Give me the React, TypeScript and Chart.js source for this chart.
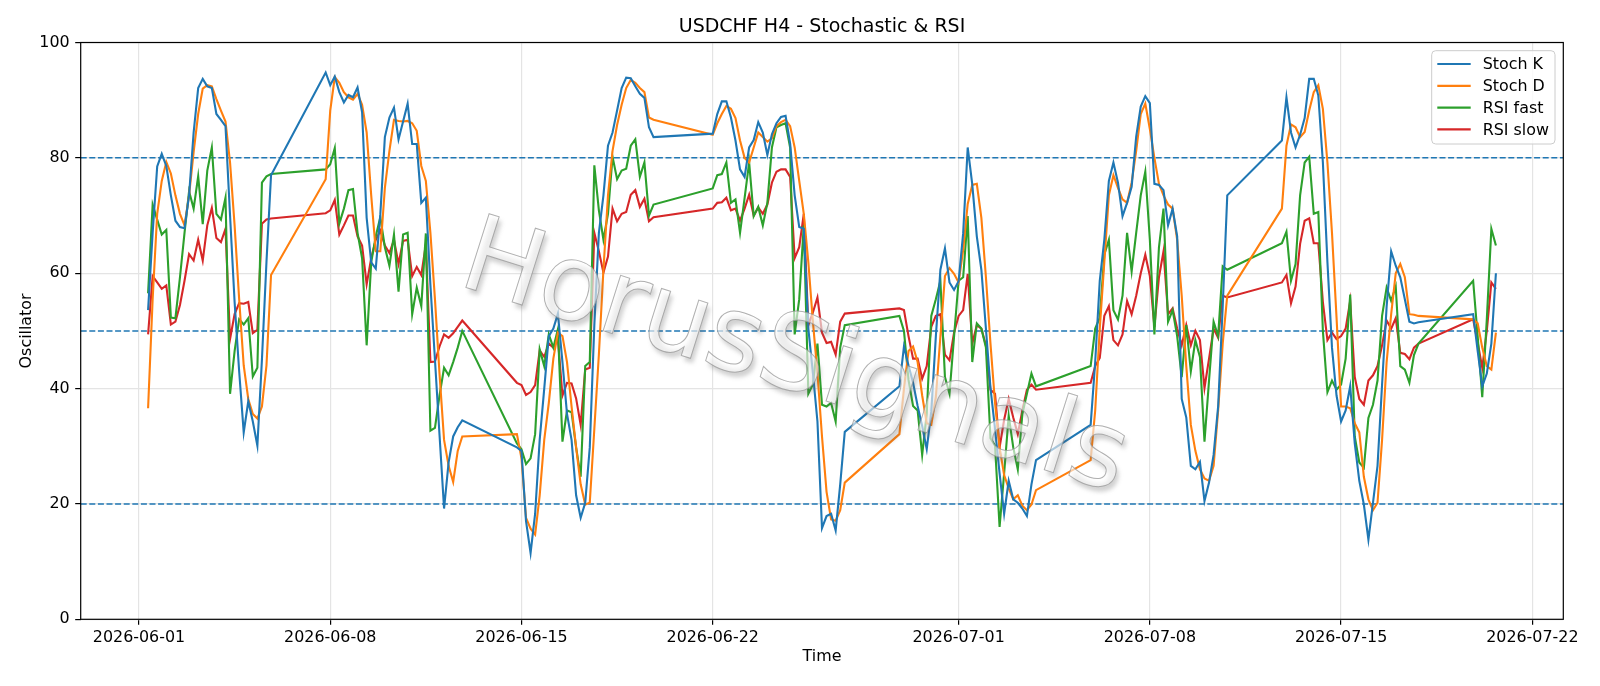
import React, { useEffect, useRef } from 'react';
import { Chart, registerables } from 'chart.js';

Chart.register(...registerables);

// H4 trading sessions: [first bar (UTC), number of bars]
const sessions: [string, number][] = [
  ['2026-06-01 08:00', 28],
  ['2026-06-07 20:00', 31],
  ['2026-06-14 20:00', 31],
  ['2026-06-22 00:00', 30],
  ['2026-06-28 20:00', 31],
  ['2026-07-05 20:00', 31],
  ['2026-07-12 20:00', 31],
  ['2026-07-19 20:00', 6],
];

const stochK = [
  53.6, 67, 78.5, 80.7, 78.6, 73.5, 69.1, 68, 67.8, 73.5, 84.4, 92.1, 93.7, 92.4, 92.1, 87.6, 86.6, 85.5, 70, 55, 43, 32.4, 37.8, 34.3, 30.1, 45, 62, 77,
  94.8, 92.6, 94.1, 91.4, 89.6, 90.9, 90.5, 92.2, 87.9, 69.6, 61.9, 60.8, 70.2, 83.6, 87, 88.7, 83.2, 86.3, 89.4, 82.4, 82.4, 72.2, 73.1, 58, 45, 32, 19.2, 27.2, 31.7, 33.3, 34.5,
  29.8, 29.2, 17, 11.5, 18.3, 31.1, 40, 49.1, 50.4, 53, 44.6, 35.6, 31.1, 21.5, 17.6, 20.2, 29.8, 51, 67, 73.5, 82.1, 84.4, 88.2, 92.1, 93.9, 93.8, 92.4, 91.1, 90.4, 85.3, 83.6,
  84.2, 87.6, 89.8, 89.8, 87, 83, 78, 76.7, 81.8, 83.1, 86.2, 84.4, 80.5, 84.1, 86, 87.1, 87.3, 82.5, 73.5, 68, 67.7, 50.4, 42.7, 34.3, 15.8, 17.9, 18.3, 15.4, 23.4, 32.5,
  40.4, 47.3, 44, 41, 37, 33.5, 29.5, 36, 49, 60.6, 64.3, 58.4, 57.1, 58.6, 66.9, 81.8, 75.4, 66.4, 60.6, 50.4, 40.1, 33, 25.3, 18.3, 24, 20.8, 20.2, 19.2, 17.9, 23.4, 27.6,
  33.7, 44.6, 58.7, 65.8, 76, 79.2, 75.7, 69.9, 72.2, 75, 83.7, 88.9, 90.7, 89.5, 75.5, 75.3, 74.4, 68.3, 71.2, 66.4, 38.2, 35, 26.6, 26, 27.3, 20.5, 23.7, 28.5, 36.9, 54.2, 73.5,
  83, 90.5, 84.4, 81.8, 84, 86.9, 93.7, 93.7, 90.8, 79.2, 61.9, 47.1, 38.8, 34.3, 36.2, 40.4, 30.5, 24, 19.9, 13.8, 20.2, 26.6, 40.7, 54.2, 63.8, 61.3, 59.3, 55.5, 51.6, 51.3, 51.5,
  52.9, 46.5, 40.4, 42.6, 47.8, 60,
];

const stochD = [
  36.6, 55.5, 70.3, 76, 79.3, 77.3, 73.5, 70.3, 68.3, 73.5, 81, 87.6, 92, 92.6, 92.4, 90.2, 88.2, 86.3, 79.2, 68.3, 55.5, 44, 38.2, 35.6, 34.8, 36.9, 44, 59.7,
  76.3, 88.2, 94, 93, 91.4, 90.5, 90.1, 91.1, 89.2, 84.4, 73.5, 63.8, 63.8, 74.8, 81.2, 86.6, 86.4, 86.3, 86.4, 86, 84.7, 78.6, 76, 67, 55.5, 42.6, 31.1, 26.6, 23.8, 29.2, 31.7,
  32.1, 27.9, 17.6, 15.7, 14.7, 21.5, 31.1, 37.5, 45.2, 49.7, 49.1, 44.6, 36.9, 29.8, 23.4, 19.9, 20.2, 33, 45.9, 60.6, 73.5, 81.2, 85.7, 89.2, 92.1, 93.5, 93, 92.1, 91.4, 87, 86.6,
  84, 86, 87.6, 89, 88.5, 86.9, 83, 80, 79.2, 81.8, 84.4, 83.6, 82.8, 83.4, 85.5, 86.2, 86.6, 85.5, 81.8, 76, 70.3, 61.9, 51.6, 42.7, 31.7, 22.1, 17.3, 17.1, 18.9, 23.7,
  32.1, 40, 46.5, 47.3, 44.6, 38.8, 34, 33.7, 38.5, 49, 59.5, 60.9, 59.9, 58.4, 64, 72, 75.3, 75.5, 69.6, 59.3, 47.8, 37.5, 29.8, 25, 22.7, 20.8, 21.5, 19.7, 18.9, 19.9, 22.4,
  27.6, 36.2, 50.4, 61.9, 73.5, 77, 74.8, 72.8, 72.2, 75.7, 81.2, 87.6, 89.4, 85, 80, 75.5, 73.5, 71.9, 71.2, 65.8, 56.1, 43.9, 33.7, 29.2, 26, 24.4, 24, 26.6, 36.2, 47.8, 56.1,
  71.2, 82.1, 85.8, 85.3, 83.6, 84.5, 88.2, 91.4, 92.6, 88.5, 79.2, 67, 52.3, 36.9, 36.9, 36.6, 34, 32.4, 24.7, 20.8, 18.9, 20.2, 31.1, 44.6, 52.9, 60, 61.6, 59.3, 52.9, 52.8, 52.6,
  52, 51.3, 47.1, 43.9, 43.3, 49.7,
];

const rsiFast = [
  56.5, 71.9, 69.3, 66.7, 67.5, 52.3, 52.2, 59.3, 67, 74.2, 71.2, 76.8, 68.5, 77.8, 81.8, 70.3, 69.3, 73.1, 39.1, 46.5, 52, 51.1, 52.2, 42.1, 43.6, 75.7, 76.8, 77.2,
  78, 78.9, 81.7, 68.6, 71.2, 74.4, 74.6, 67, 62.6, 47.5, 61.9, 66.4, 69.7, 64.5, 61.3, 66.7, 56.8, 66.7, 67, 52.9, 57.5, 54.3, 66.9, 32.7, 33.2, 38.8, 43.6, 42.3, 44.6, 47.1, 50,
  30.5, 29.5, 26.9, 27.9, 32.1, 46.8, 43.9, 49.4, 47.1, 50.3, 30.8, 36.2, 35.9, 29.8, 24.7, 43.9, 44.6, 78.7, 70.9, 65.8, 70.3, 80.2, 76.3, 77.8, 78.1, 82.1, 83.2, 76.7, 79.2, 70, 71.9,
  74.7, 77, 77.2, 79.2, 72.2, 72.8, 67, 73, 79.2, 69.9, 71.5, 68.3, 72.2, 81.8, 85.3, 85.7, 86, 81.8, 49.4, 55.5, 68.3, 39.1, 40.7, 47.8, 37.2, 36.9, 37.5, 34.3, 47.1, 51,
  52.6, 50, 41.5, 37, 36.2, 28.5, 35.6, 52.6, 55.5, 58.7, 42, 39.1, 49, 58.7, 59.3, 69.9, 44.6, 51.3, 50.4, 47.1, 31.4, 30.1, 16, 25.3, 35.3, 29.8, 26, 35.6, 39.1, 42.6, 40.4,
  43.9, 50.4, 52.3, 63.2, 65.8, 53.6, 52, 56.1, 67, 60.3, 67, 73.5, 77.6, 65.8, 49.4, 64.5, 71.2, 51.6, 53.6, 49.1, 42, 51, 43, 48.4, 45.5, 30.8, 41.4, 51.6, 49.1, 61.2, 60.6,
  65.2, 67.2, 58.7, 61.6, 73.5, 79.2, 80.2, 70.3, 70.6, 50, 39.4, 41.4, 39.8, 40.7, 45.2, 56.3, 31.7, 27.2, 26.3, 34.9, 37.2, 41.4, 52.6, 57.5, 55.2, 57.7, 43.9, 43.3, 41, 45.8, 47.8,
  58.7, 49, 38.5, 52, 67.7, 64.8,
];

const rsiSlow = [
  49.4, 59.5, 58.4, 57.3, 57.9, 51.1, 51.6, 54.5, 58.7, 63.3, 62.2, 65.8, 62.2, 68.3, 71.3, 66.1, 65.4, 67.7, 48.6, 52.9, 54.8, 54.7, 55, 49.6, 50.2, 68.6, 69.3, 69.5,
  70.4, 70.9, 72.7, 66.7, 68.3, 70, 70, 66.4, 64.8, 58.1, 62.6, 65.8, 67.4, 64.8, 63.5, 65.8, 61.6, 65.6, 65.8, 59.5, 61.1, 59.7, 65, 44.6, 44.7, 47.3, 49.4, 48.8, 49.6, 50.7, 51.8,
  41, 40.6, 38.9, 39.4, 40.6, 46.6, 45.5, 47.8, 47.1, 48.6, 38.8, 41, 40.9, 38.3, 33.7, 43.3, 43.6, 67, 63.8, 60.1, 62.9, 71.2, 69, 70.3, 70.6, 73.6, 74.4, 71.5, 72.9, 69, 69.7,
  71.2, 72.2, 72.3, 73.1, 70.9, 71.2, 69.1, 71.2, 73.6, 70, 71.4, 70.3, 71.9, 75.7, 77.6, 78, 78, 76.7, 62.6, 64.5, 70.3, 51, 53.2, 55.8, 49.7, 47.9, 48.1, 45.9, 51.6, 53,
  53.9, 53.6, 49.1, 45.2, 45.2, 41.7, 43.9, 50.7, 52.6, 52.9, 45.9, 44.9, 49.7, 52.6, 53.6, 59.9, 47.8, 51, 50.4, 47.5, 39.8, 39.1, 29.8, 34.6, 38.2, 35, 32.1, 36.2, 39.8, 40.7, 39.8,
  41, 43.9, 45.3, 52.6, 54.3, 48.4, 47.5, 49.4, 55.2, 52.9, 56.1, 60, 63.2, 59.5, 50.7, 59.3, 63.8, 52.9, 53.9, 50.4, 47.5, 51, 47.5, 50, 48.4, 40.1, 45.2, 50.4, 48.8, 56.1, 55.8,
  58.4, 59.7, 54.8, 57.7, 65.1, 69.1, 69.5, 65.2, 65.2, 55, 48.4, 49.7, 48.6, 49.1, 50.4, 55.2, 42, 38.2, 37.2, 41.4, 42.3, 43.9, 47.5, 51.8, 50.4, 52.2, 46.2, 46, 45.1, 47.1, 47.8,
  52, 48, 43.6, 50, 58.4, 57.3,
];

const seriesNames = ['Stoch K', 'Stoch D', 'RSI fast', 'RSI slow'];
const seriesColors = ['#1f77b4', '#ff7f0e', '#2ca02c', '#d62728'];
const tickLabels = ['2026-06-01', '2026-06-08', '2026-06-15', '2026-06-22', '2026-07-01', '2026-07-08', '2026-07-15', '2026-07-22'];
const yTickValues = [0, 20, 40, 60, 80, 100];
const refLevels = [20, 50, 80];
const titleText = 'USDCHF H4 - Stochastic & RSI';
const xTitle = 'Time';
const yTitle = 'Oscillator';
const watermark = 'HorusSignals';

const DAY = 86400000;
const ORIGIN = Date.UTC(2026, 5, 1);
function parseUTC(s: string): number {
  const [d, t = '00:00'] = s.split(' ');
  const [Y, M, D] = d.split('-').map(Number);
  const [h, mi] = t.split(':').map(Number);
  return Date.UTC(Y, M - 1, D, h, mi);
}
const times: number[] = [];
sessions.forEach(([start, n]) => {
  const t0 = parseUTC(start);
  for (let i = 0; i < n; i++) times.push((t0 + i * 4 * 3600000 - ORIGIN) / DAY);
});
const tickValues = tickLabels.map((s) => (parseUTC(s) - ORIGIN) / DAY);
const span = times[times.length - 1] - times[0];
const xMin = times[0] - 0.05 * span;
const xMax = times[times.length - 1] + 0.05 * span;

const FONT = 'DejaVu Sans, Verdana, sans-serif';
const W = 1600;
const H = 686;
const AREA = { left: 80.7, right: 1563.3, top: 42.5, bottom: 619.3 };

const decor = {
  id: 'decor',
  beforeDatasetsDraw(chart: any) {
    const { ctx, chartArea: a, scales } = chart;
    ctx.save();
    ctx.beginPath();
    ctx.rect(a.left, a.top, a.right - a.left, a.bottom - a.top);
    ctx.clip();
    ctx.strokeStyle = '#1f77b4';
    ctx.lineWidth = 1.5;
    ctx.setLineDash([6, 2.6]);
    refLevels.forEach((v) => {
      const py = scales.y.getPixelForValue(v);
      ctx.beginPath();
      ctx.moveTo(a.left, py);
      ctx.lineTo(a.right, py);
      ctx.stroke();
    });
    ctx.restore();
  },
  afterDatasetsDraw(chart: any) {
    const { ctx, chartArea: a } = chart;
    // watermark
    ctx.save();
    ctx.beginPath();
    ctx.rect(a.left, a.top, a.right - a.left, a.bottom - a.top);
    ctx.clip();
    ctx.translate(794, 362);
    ctx.rotate((17.5 * Math.PI) / 180);
    ctx.font = `106px ${FONT}`;
    ctx.textAlign = 'center';
    ctx.textBaseline = 'middle';
    ctx.save();
    ctx.filter = 'blur(2px)';
    ctx.fillStyle = 'rgba(90,90,90,0.28)';
    ctx.fillText(watermark, 4, 4);
    ctx.restore();
    ctx.fillStyle = 'rgba(255,255,255,0.6)';
    ctx.fillText(watermark, 0, 0);
    ctx.strokeStyle = 'rgba(150,150,150,0.75)';
    ctx.lineWidth = 1;
    ctx.strokeText(watermark, 0, 0);
    ctx.restore();

    // frame
    ctx.save();
    ctx.strokeStyle = '#000';
    ctx.lineWidth = 1.2;
    ctx.strokeRect(a.left, a.top, a.right - a.left, a.bottom - a.top);
    ctx.restore();

    // legend
    ctx.save();
    const lx = 1431.7, ly = 50.7, lw = 123.3, lh = 93.3, r = 4;
    ctx.beginPath();
    ctx.moveTo(lx + r, ly);
    ctx.arcTo(lx + lw, ly, lx + lw, ly + lh, r);
    ctx.arcTo(lx + lw, ly + lh, lx, ly + lh, r);
    ctx.arcTo(lx, ly + lh, lx, ly, r);
    ctx.arcTo(lx, ly, lx + lw, ly, r);
    ctx.closePath();
    ctx.fillStyle = 'rgba(255,255,255,0.8)';
    ctx.fill();
    ctx.strokeStyle = '#cccccc';
    ctx.lineWidth = 1;
    ctx.stroke();
    ctx.font = `15.9px ${FONT}`;
    ctx.textBaseline = 'middle';
    ctx.textAlign = 'left';
    seriesNames.forEach((name, i) => {
      const yy = 64 + i * 21.8;
      ctx.strokeStyle = seriesColors[i];
      ctx.lineWidth = 2.2;
      ctx.beginPath();
      ctx.moveTo(1437.3, yy);
      ctx.lineTo(1470.7, yy);
      ctx.stroke();
      ctx.fillStyle = '#000';
      ctx.fillText(name, 1482.7, yy + 1);
    });
    ctx.restore();
  },
  afterDraw(chart: any) {
    const { ctx, chartArea: a } = chart;
    ctx.save();
    ctx.fillStyle = '#000';
    ctx.textAlign = 'center';
    ctx.font = `19px ${FONT}`;
    ctx.textBaseline = 'alphabetic';
    ctx.fillText(titleText, (a.left + a.right) / 2, 32);
    ctx.font = `15.9px ${FONT}`;
    ctx.fillText(xTitle, (a.left + a.right) / 2, 661);
    ctx.translate(31, (a.top + a.bottom) / 2);
    ctx.rotate(-Math.PI / 2);
    ctx.fillText(yTitle, 0, 0);
    ctx.restore();
  },
};

export default function App() {
  const ref = useRef<HTMLCanvasElement | null>(null);
  useEffect(() => {
    if (!ref.current) return;
    const all = [stochK, stochD, rsiFast, rsiSlow];
    const chart = new Chart(ref.current, {
      type: 'line',
      data: {
        datasets: all.map((vals, i) => ({
          label: seriesNames[i],
          data: vals.map((v, j) => ({ x: times[j], y: v })),
          borderColor: seriesColors[i],
          backgroundColor: seriesColors[i],
          borderWidth: 2.1,
          pointRadius: 0,
          tension: 0,
          fill: false,
        })),
      },
      options: {
        animation: false,
        responsive: false,
        devicePixelRatio: 1,
        layout: { padding: { left: 0, right: W - AREA.right, top: AREA.top, bottom: 0 } },
        plugins: { legend: { display: false }, title: { display: false }, tooltip: { enabled: false } },
        scales: {
          x: {
            type: 'linear',
            min: xMin,
            max: xMax,
            afterBuildTicks: (scale: any) => {
              scale.ticks = tickValues.map((v) => ({ value: v }));
            },
            afterFit: (scale: any) => {
              scale.height = H - AREA.bottom;
            },
            ticks: {
              autoSkip: false,
              maxRotation: 0,
              minRotation: 0,
              padding: 4,
              color: '#000',
              font: { family: FONT, size: 15.9 },
              callback: (v: any) => {
                const i = tickValues.findIndex((t) => Math.abs(t - v) < 1e-6);
                return i >= 0 ? tickLabels[i] : '';
              },
            },
            grid: { color: '#e4e4e4', lineWidth: 1.2, tickLength: 5.5, tickColor: '#000', tickWidth: 1.2 },
            border: { display: false },
          },
          y: {
            min: 0,
            max: 100,
            afterBuildTicks: (scale: any) => {
              scale.ticks = yTickValues.map((v) => ({ value: v }));
            },
            afterFit: (scale: any) => {
              scale.width = AREA.left;
            },
            ticks: { padding: 5.5, color: '#000', font: { family: FONT, size: 15.9 } },
            grid: { color: '#e4e4e4', lineWidth: 1.2, tickLength: 5.5, tickColor: '#000', tickWidth: 1.2 },
            border: { display: false },
          },
        },
      },
      plugins: [decor],
    } as any);
    return () => chart.destroy();
  }, []);
  return (
    <div style={{ position: 'fixed', left: 0, top: 0, width: W, height: H, background: '#fff' }}>
      <canvas ref={ref} width={W} height={H} style={{ display: 'block' }} />
    </div>
  );
}
